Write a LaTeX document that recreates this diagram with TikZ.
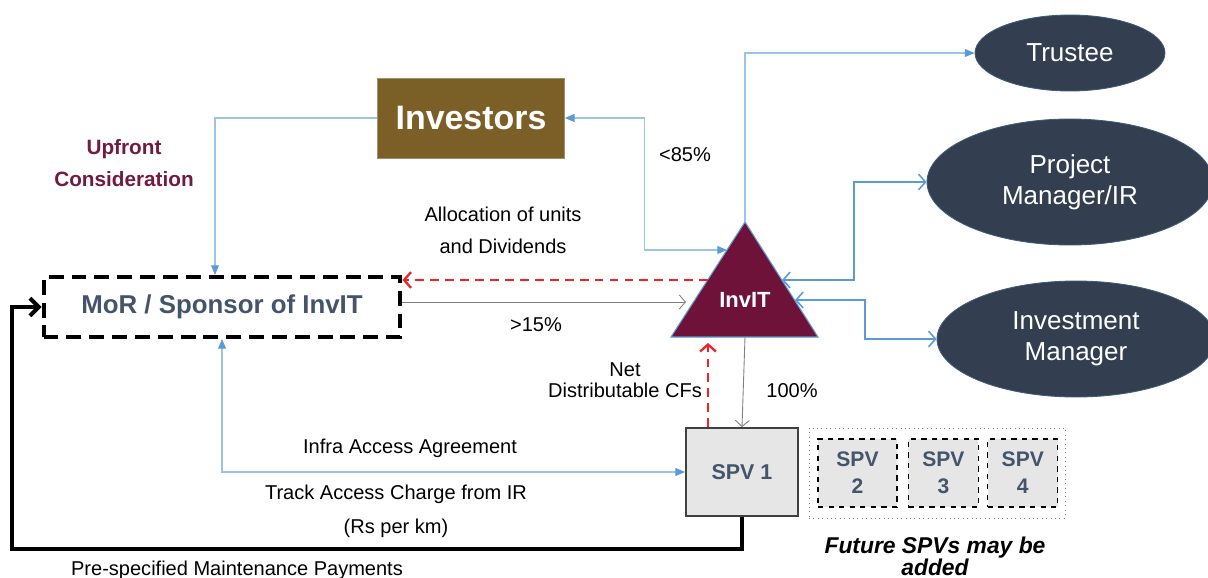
\documentclass[tikz,border=0pt]{standalone}
\usepackage{fontspec}
\setmainfont{Liberation Sans}
\usepackage{tikz}
\usetikzlibrary{positioning}
\usetikzlibrary{shapes.geometric}
\usetikzlibrary{arrows.meta}

\definecolor{invbrown}{RGB}{124,95,39}
\definecolor{invmaroon}{RGB}{110,18,58}
\definecolor{upmaroon}{RGB}{115,26,66}
\definecolor{slate}{RGB}{51,63,80}
\definecolor{textslate}{RGB}{68,84,106}
\definecolor{lineblue}{RGB}{157,195,230}
\definecolor{tipblue}{RGB}{91,155,213}
\definecolor{flowred}{RGB}{238,36,36}
\definecolor{spvgray}{RGB}{231,230,230}

\newcommand{\lblfont}{\fontsize{11.4}{18.2}\selectfont}
\newcommand{\partyfont}{\fontsize{14.8}{17.8}\selectfont}

\tikzset{
    party/.style={ellipse, fill=slate, draw=tipblue!30!slate, line width=0.5pt,
        text=white, align=center, inner sep=0pt, font=\partyfont},
    spvbox/.style={rectangle, fill=spvgray, draw=black, dashed, line width=0.8pt,
        text=textslate, align=center, inner sep=0pt, minimum height=1.36cm,
        font=\fontsize{12}{15.4}\selectfont\bfseries},
    lbl/.style={align=center, inner sep=0pt, font=\lblfont},
    bluetip/.tip={Triangle[length=5.5pt, width=4.5pt, color=tipblue]},
    lightflow/.style={draw=lineblue, line width=0.6pt, -bluetip},
    lighttwo/.style={draw=lineblue, line width=0.6pt, bluetip-bluetip},
    midflow/.style={draw=tipblue, line width=0.9pt,
        {Straight Barb[length=4pt, width=9pt]}-{Straight Barb[length=4pt, width=9pt]}},
    greyflow/.style={draw=gray, line width=0.5pt, -{Straight Barb[length=3.5pt, width=8pt]}},
    redflow/.style={draw=flowred, line width=1.3pt, dash pattern=on 5pt off 3.5pt,
        -{Straight Barb[length=4pt, width=9pt]}},
}

\begin{document}
\begin{tikzpicture}[x=0.02cm, y=-0.02cm]
    \useasboundingbox (0,0) rectangle (1208,578);

    % main boxes
    \node[fill=invbrown, draw=invbrown!70!white, minimum width=3.74cm, minimum height=1.6cm,
        text=white, font=\fontsize{19.3}{22}\selectfont\bfseries] (investors) at (471,118) {Investors};
    \node[draw=black, line width=2.3pt, dash pattern=on 8.5pt off 4.5pt, minimum width=7.14cm,
        minimum height=1.2cm, text=textslate, font=\fontsize{14.7}{17}\selectfont\bfseries]
        (mor) at (222,307) {MoR / Sponsor of InvIT\hspace{0.2cm}};

    % InvIT triangle
    \coordinate (apex) at (745,222);
    \coordinate (baseL) at (671,337);
    \coordinate (baseR) at (818,337);
    \fill[invmaroon] (apex) -- (baseL) -- (baseR) -- cycle;
    \draw[tipblue, line width=0.6pt] (apex) -- (baseL) -- (baseR) -- cycle;
    \node[text=white, font=\fontsize{12.5}{15}\selectfont\bfseries] (invit) at (745,300) {InvIT};
    \coordinate (triInv) at (727,250);
    \coordinate (triRed) at (708,280);
    \coordinate (triGrey) at (686,302);
    \coordinate (triPM) at (782,280);
    \coordinate (triIM) at (795,300);
    \coordinate (triNdcf) at (708,343);
    \coordinate (triSpv) at (745,337);

    % parties
    \node[party, minimum width=3.8cm, minimum height=1.52cm] (trustee) at (1070,53) {Trustee};
    \node[party, minimum width=5.72cm, minimum height=2.52cm] (pm) at (1070,182) {Project\\Manager/IR};
    \node[party, minimum width=5.56cm, minimum height=2.32cm] (im) at (1076,339) {Investment\\Manager};

    % SPVs
    \node[fill=spvgray, draw=black!75, line width=1.1pt, minimum width=2.24cm, minimum height=1.76cm,
        text=textslate, font=\fontsize{12.2}{15}\selectfont\bfseries] (spv1) at (742,472) {SPV 1};
    \node[draw=gray, dotted, line width=0.5pt, minimum width=5.12cm, minimum height=1.8cm] (future) at (937,473) {};
    \node[spvbox, minimum width=1.58cm] (spv2) at (857.5,473) {SPV\\2};
    \node[spvbox, minimum width=1.4cm, right=0.2cm of spv2] (spv3) {SPV\\3};
    \node[spvbox, minimum width=1.4cm, right=0.16cm of spv3] (spv4) {SPV\\4};

    % connectors
    \draw[lightflow] (investors.west) -| ([xshift=-0.14cm]mor.north);
    \draw[lighttwo] (investors.east) -- ++(80,0) |- (triInv);
    \draw[lightflow] (apex) |- (trustee.west);
    \draw[midflow] (triPM) -- ++(72,0) |- (pm.west);
    \draw[midflow] (triIM) -- ++(70,0) |- (im.west);
    \draw[redflow] (triRed) -- (triRed -| mor.east);
    \draw[greyflow] (triGrey -| mor.east) -- (triGrey);
    \draw[redflow] (spv1.north -| triNdcf) -- (triNdcf);
    \draw[greyflow] (triSpv) -- (spv1.north);
    \draw[lighttwo] (spv1.west) -| (mor.south);
    \coordinate (mcorner) at (12,549);
    \draw[line width=2.3pt, -{Straight Barb[length=5pt, width=10pt]}] (spv1.south) |- (mcorner) |- (mor.west);

    % labels
    \node[lbl, text=upmaroon, font=\fontsize{11.8}{18.2}\selectfont\bfseries] (upfront) at (124,163) {Upfront\\Consideration};
    \node[lbl] (alloc) at (503,230) {Allocation of units\\and Dividends};
    \node[lbl] (gt15) at (536,325) {>15\%};
    \node[lbl] (lt85) at (685,155) {<85\%};
    \node[lbl, font=\fontsize{11.4}{12}\selectfont] (ndcf) at (625,380) {Net\\Distributable CFs};
    \node[lbl] (full) at (792,391) {100\%};
    \node[lbl] (iaa) at (410,448) {Infra Access Agreement};
    \node[lbl] (tac) at (396,494) {Track Access Charge from IR};
    \node[lbl] (rskm) at (396,528) {(Rs per km)};
    \node[lbl] (maint) at (237,570) {Pre-specified Maintenance Payments};
    \node[lbl, font=\fontsize{13}{12.5}\selectfont\bfseries\itshape] (futlbl) at (935,556) {Future SPVs may be\\added};
\end{tikzpicture}
\end{document}
